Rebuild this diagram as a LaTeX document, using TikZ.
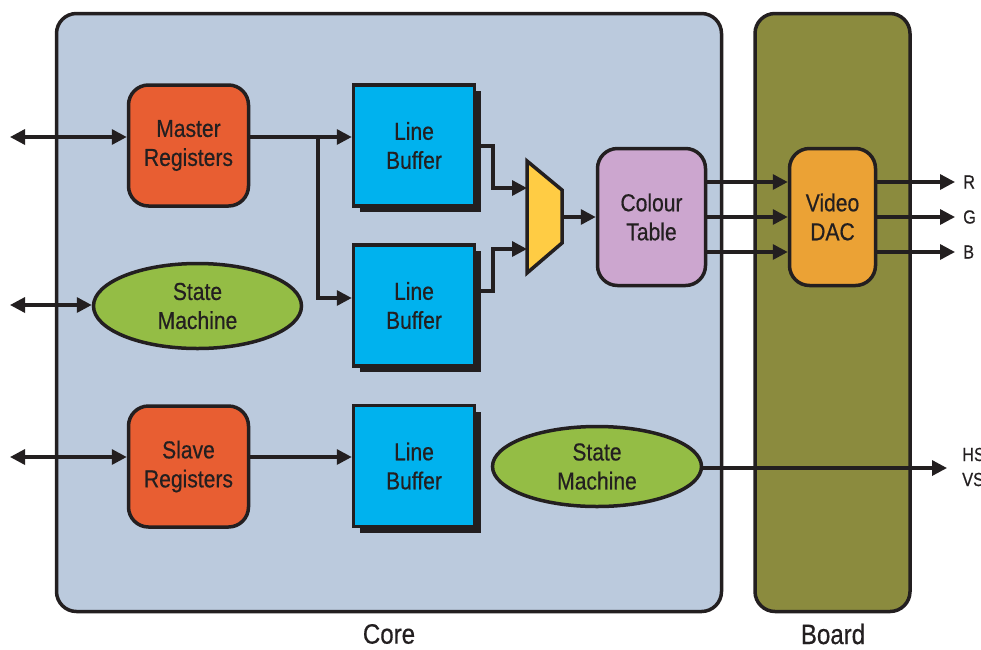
\documentclass[tikz,border=0pt]{standalone}
\usepackage{fontspec}
\setmainfont{Liberation Sans}[FakeStretch=0.86,FakeBold=0.5]
\usetikzlibrary{arrows.meta,shadows,calc,shapes.geometric}
\definecolor{linec}{HTML}{231F20}
\definecolor{corefill}{HTML}{BBCADD}
\definecolor{boardfill}{HTML}{8B8B3E}
\definecolor{regfill}{HTML}{E85E32}
\definecolor{smfill}{HTML}{94BD45}
\definecolor{lbfill}{HTML}{00B2EE}
\definecolor{muxfill}{HTML}{FFCC44}
\definecolor{ctfill}{HTML}{CCA6CF}
\definecolor{dacfill}{HTML}{EBA235}
\begin{document}
\begin{tikzpicture}[x=1pt,y=-1pt,
  every node/.style={text=linec},
  lbl/.style={font=\fontsize{24.5}{29}\selectfont, align=center},
  regbox/.style={lbl, draw=linec, line width=3.5pt, fill=regfill, rounded corners=20pt, minimum width=120pt, minimum height=121pt, inner sep=0pt},
  smell/.style={lbl, draw=linec, line width=3.5pt, fill=smfill, ellipse, inner sep=0pt},
  lbbox/.style={lbl, draw=linec, line width=3.5pt, fill=lbfill, minimum width=121pt, minimum height=121pt, inner sep=0pt,
     drop shadow={shadow xshift=6pt, shadow yshift=-6pt, fill=linec, opacity=1}},
  ctbox/.style={lbl, draw=linec, line width=3.5pt, rounded corners=20pt, minimum width=108pt, minimum height=137pt, inner sep=0pt},
  bigbox/.style={draw=linec, line width=3.5pt, rounded corners=20pt},
  arr/.style={draw=linec, line width=3.3pt, -{Triangle[length=15pt,width=15pt]}},
  barr/.style={draw=linec, line width=3.3pt, {Triangle[length=15pt,width=15pt]}-{Triangle[length=15pt,width=15pt]}},
  ln/.style={draw=linec, line width=3.3pt},
  sig/.style={font=\fontsize{19}{22}\selectfont, anchor=west, align=left, inner sep=0pt},
  title/.style={font=\fontsize{28}{30}\selectfont, inner sep=0pt}
]
\useasboundingbox (0,0) rectangle (981,649);
% containers
\node[bigbox, fill=corefill, minimum width=665pt, minimum height=598pt, inner sep=0pt] (core) at (389,312.5) {};
\node[bigbox, fill=boardfill, minimum width=155pt, minimum height=598pt, inner sep=0pt] (board) at (832.5,312.5) {};
\node[title] (corelbl) at (389,634) {Core};
\node[title] (boardlbl) at (833,634) {Board};

% blocks
\node[regbox] (master) at (188.5,145.5) {Master\\Registers};
\node[regbox] (slave) at (188.5,466.5) {Slave\\Registers};
\node[smell, minimum width=208pt, minimum height=85pt] (sm1) at (197.5,306) {State\\Machine};
\node[smell, minimum width=209pt, minimum height=80pt] (sm2) at (597,466.5) {State\\Machine};
\node[lbbox] (lb1) at (414,145.5) {Line\\Buffer};
\node[lbbox] (lb2) at (414,305.5) {Line\\Buffer};
\node[lbbox] (lb3) at (414,466) {Line\\Buffer};
\node[ctbox, fill=ctfill] (ct) at (651.5,217) {Colour\\Table};
\node[ctbox, fill=dacfill, minimum width=86pt] (dac) at (832.5,217) {Video\\DAC};

% mux
\node[minimum width=35pt, minimum height=112pt, inner sep=0pt, outer sep=0pt] (mux) at (544.5,217) {};
\draw[ln, line width=3.5pt, fill=muxfill, line join=miter] (mux.north west) -- ($(mux.north east)+(0,29)$) -- ($(mux.south east)+(0,-30)$) -- (mux.south west) -- cycle;

% external ends
\coordinate (e1) at (10,137);
\coordinate (e2) at (10,305);
\coordinate (e3) at (10,457);
\coordinate (br) at (318,137);
\coordinate (elb1) at (493,146);
\coordinate (elb2) at (493,291);
\coordinate (oR) at (955,182);
\coordinate (oG) at (955,217);
\coordinate (oB) at (955,252);
\coordinate (oH) at (947,468);

% connectors
\draw[barr] (e1) -- (e1 -| master.west);
\draw[barr] (e2) -- (e2 -| sm1.west);
\draw[barr] (e3) -- (e3 -| slave.west);
\draw[ln] (br -| master.east) -- (br);
\draw[arr] (br) -- (br -| lb1.west);
\draw[arr] (br) -- (318,298) -- (318,298 -| lb2.west);
\draw[arr] (e3 -| slave.east) -- (e3 -| lb3.west);
\draw[arr] (elb1 -| lb1.east) -- (elb1) -- (493,188) -- (mux.west |- 0,188);
\draw[arr] (elb2 -| lb2.east) -- (elb2) -- (493,249) -- (mux.west |- 0,249);
\draw[arr] (mux.east) -- (ct.west);
\draw[arr] (oR -| ct.east) -- (oR -| dac.west);
\draw[arr] (oG -| ct.east) -- (oG -| dac.west);
\draw[arr] (oB -| ct.east) -- (oB -| dac.west);
\draw[arr] (oR -| dac.east) -- (oR);
\draw[arr] (oG -| dac.east) -- (oG);
\draw[arr] (oB -| dac.east) -- (oB);
\draw[arr] (oH -| sm2.east) -- (oH);

% signal labels
\node[sig] (lR) at (963,182) {R};
\node[sig] (lG) at (963,217) {G};
\node[sig] (lB) at (963,252) {B};
\node[sig, font=\fontsize{19}{25}\selectfont] (lH) at (962,467) {HS\\VS};
\end{tikzpicture}
\end{document}
